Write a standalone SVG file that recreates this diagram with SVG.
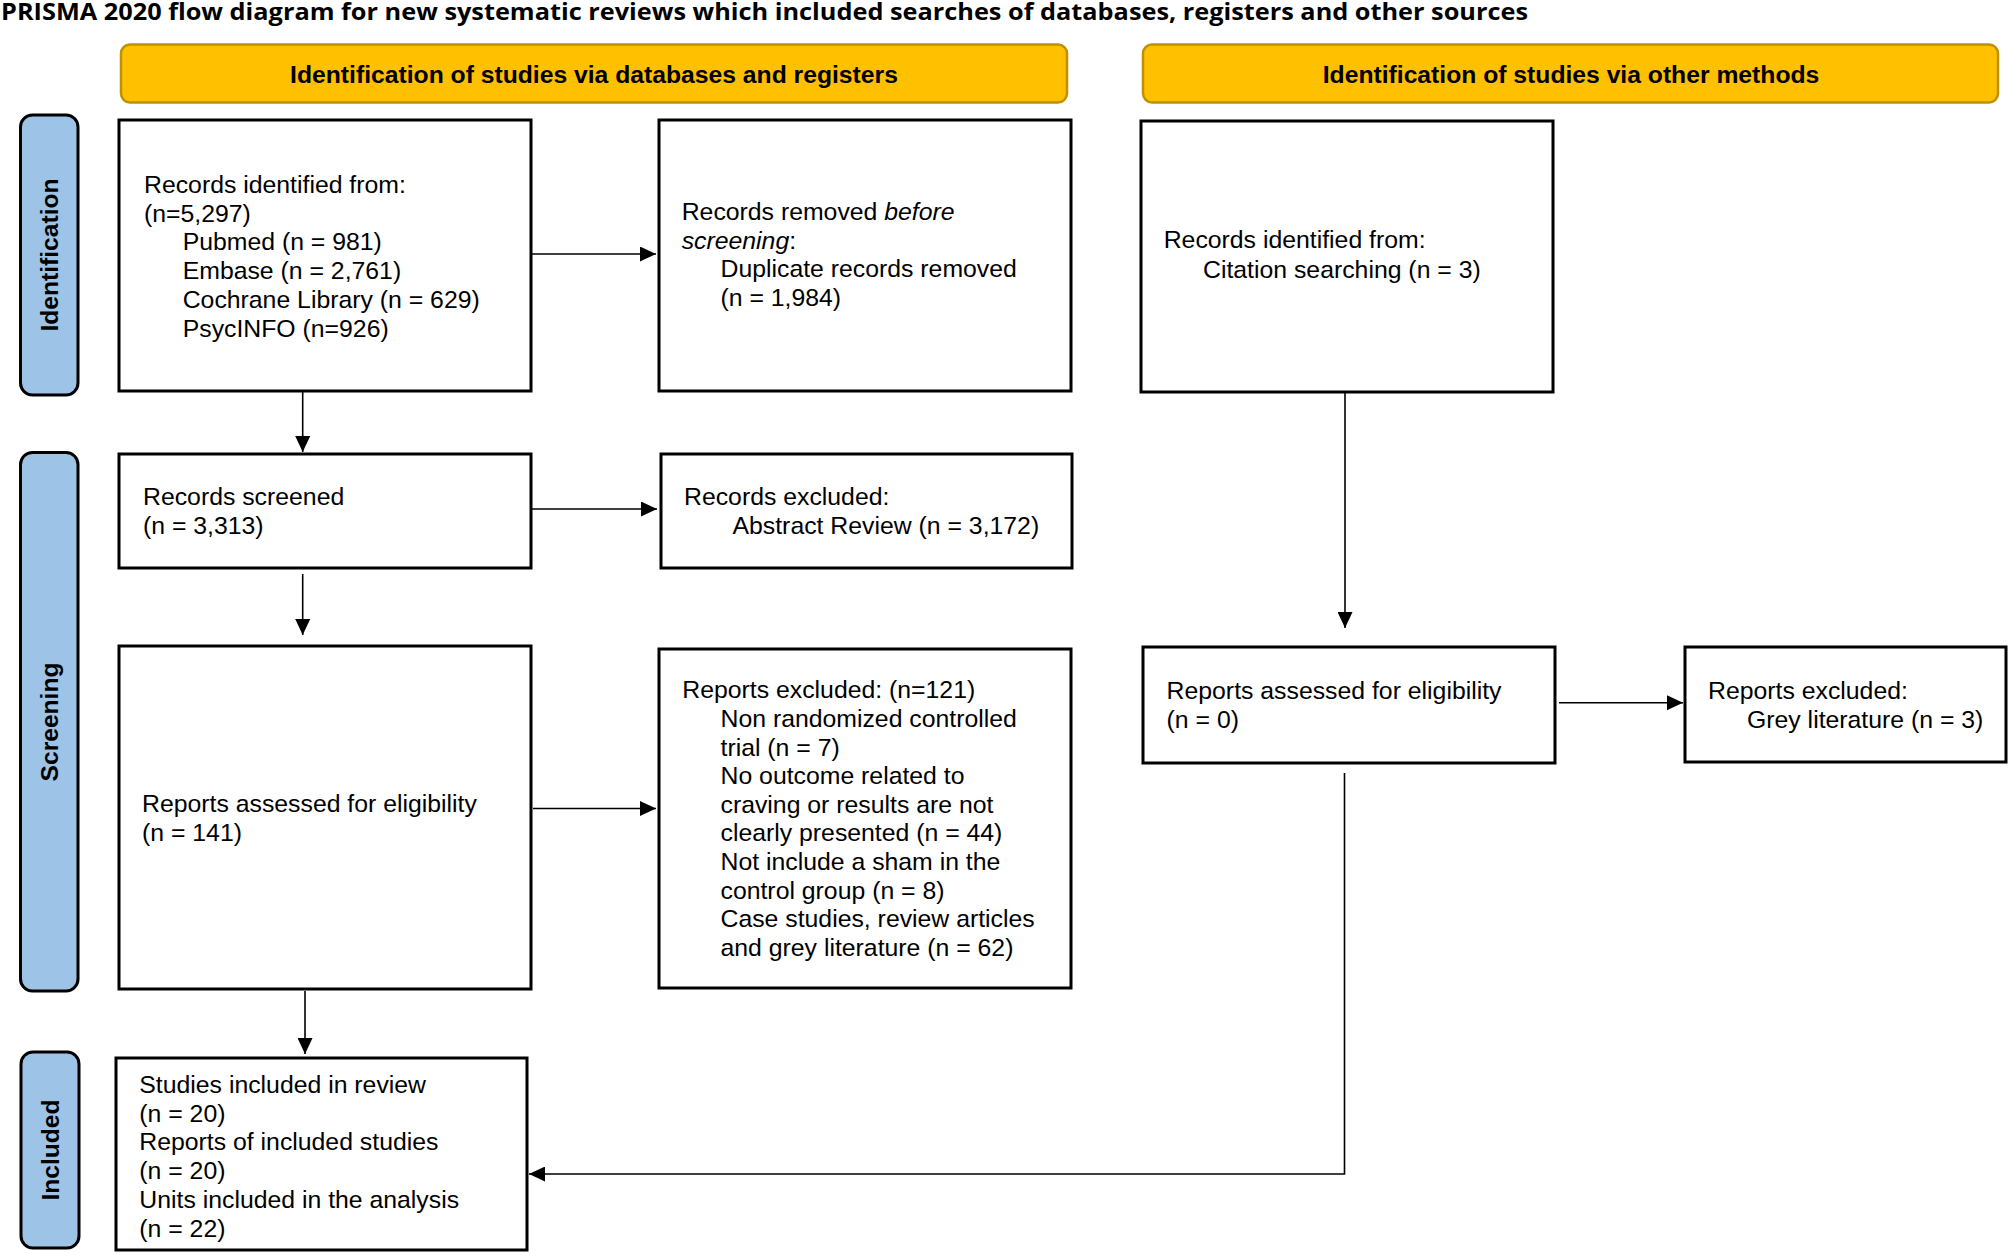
<svg xmlns="http://www.w3.org/2000/svg" width="2008" height="1253" viewBox="0 0 2008 1253">
<style>
.bg{fill:#ffffff}
.box{fill:#ffffff;stroke:#000000;stroke-width:3}
.hdr{fill:#FFC000;stroke:#BF9000;stroke-width:2.5}
.side{fill:#9DC3E6;stroke:#000000;stroke-width:3}
.t{font-family:"Liberation Sans",Arial,sans-serif;font-size:24.8px;fill:#000000}
.hb{font-family:"Liberation Sans",Arial,sans-serif;font-size:24.7px;font-weight:bold;fill:#000000;text-anchor:middle}
.sb{font-family:"Liberation Sans",Arial,sans-serif;font-size:24.6px;font-weight:bold;fill:#000000;text-anchor:middle}
.title{font-family:"Open Sans","Noto Sans",sans-serif;font-size:23px;font-weight:bold;fill:#000000}
.con{fill:none;stroke:#000000;stroke-width:1.6}
.it{font-style:italic}
</style>
<defs>
<marker id="ah" viewBox="0 0 16 15" refX="16" refY="7.5" markerWidth="16" markerHeight="15" markerUnits="userSpaceOnUse" orient="auto">
<path d="M0,0 L16,7.5 L0,15 z" fill="#000000"/>
</marker>
</defs>
<rect class="bg" x="0" y="0" width="2008" height="1253"/>
<text class="title" x="1" y="20" textLength="1527" lengthAdjust="spacingAndGlyphs">PRISMA 2020 flow diagram for new systematic reviews which included searches of databases, registers and other sources</text>

<g id="header-databases">
<rect class="hdr" x="121" y="44.5" width="946" height="58" rx="9" ry="9"/>
<text class="hb" x="594" y="82.5">Identification of studies via databases and registers</text>
</g>
<g id="header-other">
<rect class="hdr" x="1143" y="44.5" width="855" height="58" rx="9" ry="9"/>
<text class="hb" x="1571" y="82.5">Identification of studies via other methods</text>
</g>

<g id="side-identification">
<rect class="side" x="20.5" y="115" width="57.5" height="280" rx="12" ry="12"/>
<text class="sb" transform="translate(58,255) rotate(-90)" x="0" y="0">Identification</text>
</g>
<g id="side-screening">
<rect class="side" x="20.5" y="452.5" width="57.5" height="538.5" rx="12" ry="12"/>
<text class="sb" transform="translate(58,722) rotate(-90)" x="0" y="0">Screening</text>
</g>
<g id="side-included">
<rect class="side" x="21" y="1052" width="58" height="196" rx="12" ry="12"/>
<text class="sb" transform="translate(58.5,1150) rotate(-90)" x="0" y="0">Included</text>
</g>

<g id="connectors">
<path class="con" d="M531,254 H656" marker-end="url(#ah)"/>
<path class="con" d="M302.7,391 V452" marker-end="url(#ah)"/>
<path class="con" d="M531,509 H657" marker-end="url(#ah)"/>
<path class="con" d="M302.7,574 V635" marker-end="url(#ah)"/>
<path class="con" d="M533,808.5 H656" marker-end="url(#ah)"/>
<path class="con" d="M305,991 V1054" marker-end="url(#ah)"/>
<path class="con" d="M1345,392 V628" marker-end="url(#ah)"/>
<path class="con" d="M1559,702.7 H1683" marker-end="url(#ah)"/>
<path class="con" d="M1344.5,773 V1174 H529" marker-end="url(#ah)"/>
</g>

<g id="records-identified-db">
<rect class="box" x="119" y="120" width="412" height="271"/>
<text class="t" x="144" y="193">Records identified from:</text>
<text class="t" x="144" y="221.7">(n=5,297)</text>
<text class="t" x="182.7" y="250.4">Pubmed (n = 981)</text>
<text class="t" x="182.7" y="279.1">Embase (n = 2,761)</text>
<text class="t" x="182.7" y="307.8">Cochrane Library (n = 629)</text>
<text class="t" x="182.7" y="336.5">PsycINFO (n=926)</text>
</g>

<g id="records-removed">
<rect class="box" x="659" y="120" width="412" height="271"/>
<text class="t" x="681.7" y="220">Records removed <tspan class="it">before</tspan></text>
<text class="t" x="681.7" y="248.5"><tspan class="it">screening</tspan>:</text>
<text class="t" x="720.5" y="277">Duplicate records removed</text>
<text class="t" x="720.5" y="305.5">(n = 1,984)</text>
</g>

<g id="records-identified-other">
<rect class="box" x="1141" y="121" width="412" height="271"/>
<text class="t" x="1163.7" y="248.3">Records identified from:</text>
<text class="t" x="1203" y="277.5">Citation searching (n = 3)</text>
</g>

<g id="records-screened">
<rect class="box" x="119" y="454" width="412" height="114"/>
<text class="t" x="143" y="505">Records screened</text>
<text class="t" x="143" y="534">(n = 3,313)</text>
</g>

<g id="records-excluded">
<rect class="box" x="661" y="454" width="411" height="114"/>
<text class="t" x="684" y="505">Records excluded:</text>
<text class="t" x="732.5" y="534">Abstract Review (n = 3,172)</text>
</g>

<g id="reports-assessed-db">
<rect class="box" x="119" y="646" width="412" height="343"/>
<text class="t" x="142" y="812">Reports assessed for eligibility</text>
<text class="t" x="142" y="841">(n = 141)</text>
</g>

<g id="reports-excluded-db">
<rect class="box" x="659" y="649" width="412" height="339"/>
<text class="t" x="682.3" y="698.3">Reports excluded: (n=121)</text>
<text class="t" x="720.5" y="726.9">Non randomized controlled</text>
<text class="t" x="720.5" y="755.5">trial (n = 7)</text>
<text class="t" x="720.5" y="784.1">No outcome related to</text>
<text class="t" x="720.5" y="812.7">craving or results are not</text>
<text class="t" x="720.5" y="841.3">clearly presented (n = 44)</text>
<text class="t" x="720.5" y="869.9">Not include a sham in the</text>
<text class="t" x="720.5" y="898.5">control group (n = 8)</text>
<text class="t" x="720.5" y="927.1">Case studies, review articles</text>
<text class="t" x="720.5" y="955.7">and grey literature (n = 62)</text>
</g>

<g id="reports-assessed-other">
<rect class="box" x="1143" y="647" width="412" height="116"/>
<text class="t" x="1166.6" y="699.3">Reports assessed for eligibility</text>
<text class="t" x="1166.6" y="728">(n = 0)</text>
</g>

<g id="reports-excluded-other">
<rect class="box" x="1685" y="647" width="321" height="115"/>
<text class="t" x="1708" y="699.3">Reports excluded:</text>
<text class="t" x="1747" y="728">Grey literature (n = 3)</text>
</g>

<g id="studies-included">
<rect class="box" x="116" y="1058" width="411" height="192"/>
<text class="t" x="139.3" y="1093">Studies included in review</text>
<text class="t" x="139.3" y="1121.7">(n = 20)</text>
<text class="t" x="139.3" y="1150.4">Reports of included studies</text>
<text class="t" x="139.3" y="1179.1">(n = 20)</text>
<text class="t" x="139.3" y="1207.8">Units included in the analysis</text>
<text class="t" x="139.3" y="1236.5">(n = 22)</text>
</g>
</svg>
